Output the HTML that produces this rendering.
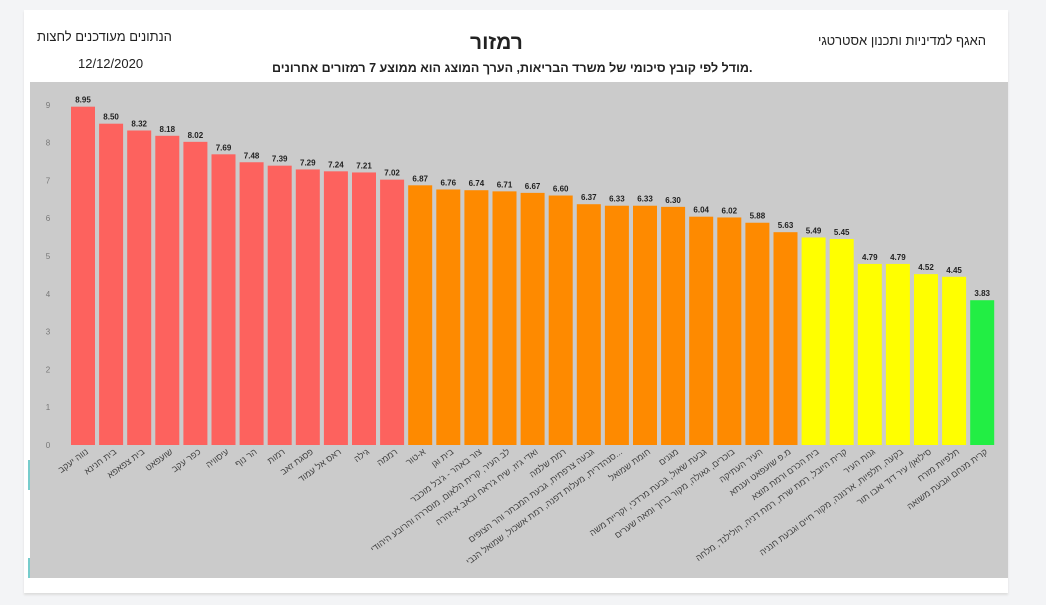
<!DOCTYPE html>
<html><head><meta charset="utf-8">
<style>
body{margin:0;width:1046px;height:605px;background:#f3f4f6;font-family:"Liberation Sans","Noto Sans CJK SC",sans-serif;overflow:hidden;position:relative}
.card{position:absolute;left:24px;top:10px;width:984px;height:583px;background:#fff;box-shadow:0 2px 2px #ddd}
.t{position:absolute;white-space:nowrap;color:#222}
</style></head><body>
<div class="card"></div>
<div class="t" style="left:37px;top:29px;font-size:13px" dir="rtl">הנתונים מעודכנים לחצות</div>
<div class="t" style="left:78px;top:56px;font-size:13px">12/12/2020</div>
<div class="t" style="left:470px;top:31px;font-size:21px;font-weight:bold">רמזור</div>
<div class="t" style="left:272px;top:61px;font-size:12.5px;font-weight:bold" dir="ltr">מודל לפי קובץ סיכומי של משרד הבריאות, הערך המוצג הוא ממוצע 7 רמזורים אחרונים.</div>
<div class="t" style="left:818px;top:33px;font-size:13px" dir="rtl">האגף למדיניות ותכנון אסטרטגי</div>
<svg id="chart" width="1046" height="605" style="position:absolute;left:0;top:0">
<rect x="30" y="82" width="978" height="496" fill="#cbcbcb"/>
<rect x="28" y="460" width="2" height="30" fill="#7cc"/>
<rect x="28" y="558" width="2" height="20" fill="#7cc"/>
<g id="g"></g>
</svg>
<script>
const categories=["נווה יעקב","בית חנינא","בית צפאפא","שועפאט","כפר עקב","עיסוויה","הר נוף","רמות","פסגת זאב","ראס אל עמוד","גילה","רממה","א-טור","בית וגן","צור באהר - ג'בל מוכבר","לב העיר, קרית הלאום, מוסררה והרובע היהודי","ואדי ג'וז, שיח ג'ראח ובאב א-זהרה","רמת שלמה","גבעה צרפתית, גבעת המבתר והר הצופים","...סנהדרית, מעלות דפנה, רמת אשכול, שמואל הנבי","חומת שמואל","מגנים","גבעת שאול, גבעת מרדכי, וקריית משה","בוכרים, גאולה, מקור ברוך ומאה שערים","העיר העתיקה","מ.פ שועפאט וענתא","בית הכרם ורמת מוצא","קרית היובל, רמת שרת, רמת דניה, הולילנד, מלחה","גנות העיר","בקעה, תלפיות, ארנונה, מקור חיים וגבעת חנניה","סילואן/ עיר דוד ואבו תור","תלפיות מזרח","קרית מנחם וגבעת משואה"];
const values=[8.95,8.50,8.32,8.18,8.02,7.69,7.48,7.39,7.29,7.24,7.21,7.02,6.87,6.76,6.74,6.71,6.67,6.60,6.37,6.33,6.33,6.30,6.04,6.02,5.88,5.63,5.49,5.45,4.79,4.79,4.52,4.45,3.83];
const yTicks=[0,1,2,3,4,5,6,7,8,9];
const NS="http://www.w3.org/2000/svg";
const g=document.getElementById('g');
const y0=445,ppu=37.8,x0=83,step=28.1,bw=24;
const y=v=>y0-v*ppu;
const x=i=>x0+i*step;
const color=v=>v>=7?"#fd625e":v>=5.6?"#fe8a00":v>=4?"#ffff00":"#22ee44";
function mk(tag,attrs){const e=document.createElementNS(NS,tag);for(const k in attrs)e.setAttribute(k,attrs[k]);g.appendChild(e);return e;}
yTicks.forEach(t=>{
  const e=mk('text',{x:48,y:y(t)+3,'font-size':8,fill:'#777','text-anchor':'middle'});
  
  
  e.textContent=t;
});
values.forEach((v,i)=>{
  const r=mk('rect',{x:x(i)-bw/2,y:y(v),width:bw,height:v*ppu,fill:color(v)});
  
  
  const t=mk('text',{x:x(i),y:y(v)-4,'font-size':8,'font-weight':'bold',fill:'#222','text-anchor':'middle'});
  
  
  t.textContent=v.toFixed(2);
  const lx=x(i)+6,ly=453;
  const l=mk('text',{x:lx,y:ly,'font-size':9,fill:'#444','text-anchor':'start',direction:'rtl',transform:`rotate(-36 ${lx} ${ly})`});
  
  
  l.textContent=categories[i];
});
</script>
</body></html>
